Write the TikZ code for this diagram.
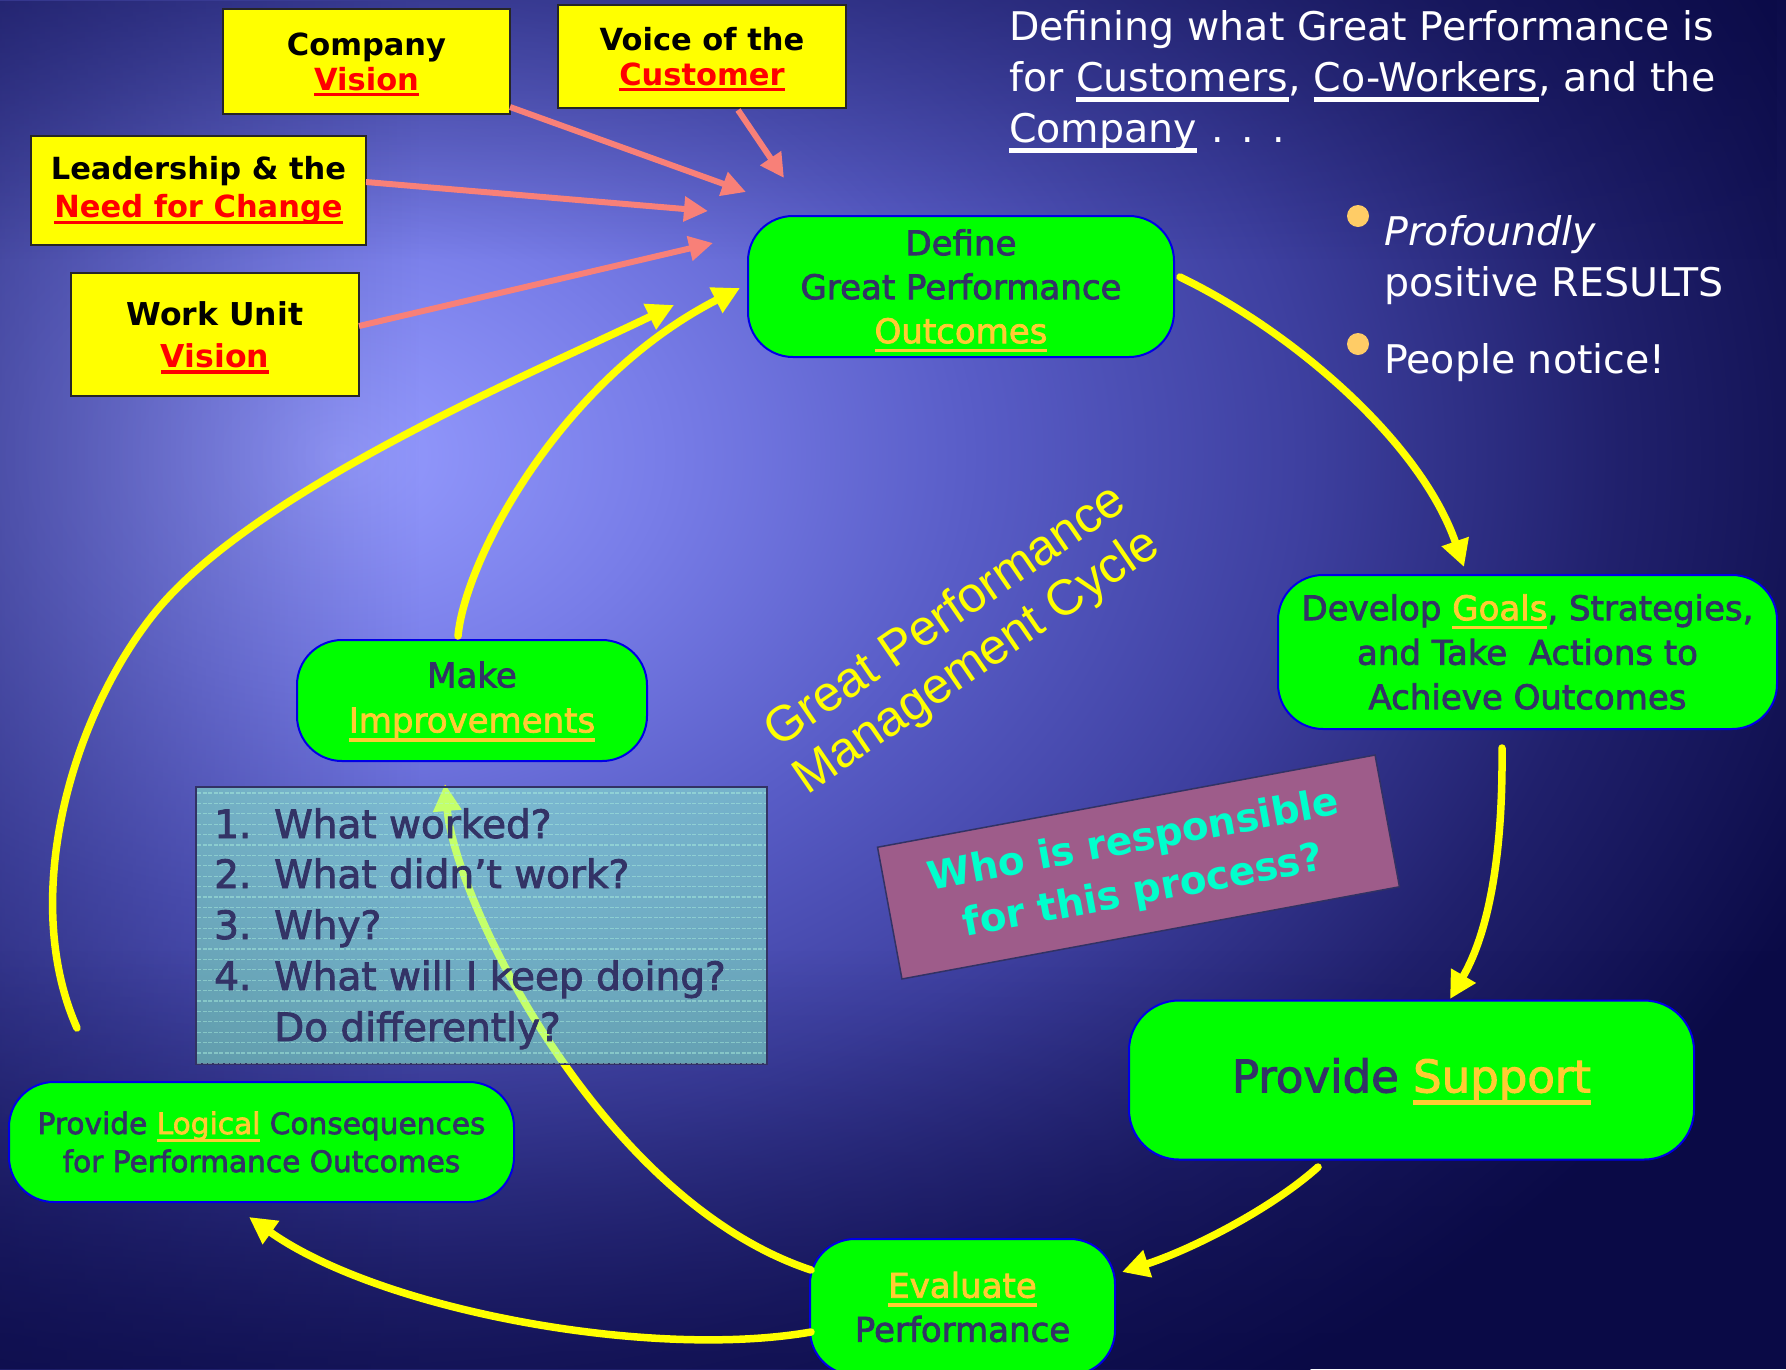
\documentclass[tikz,border=0pt]{standalone}
\usepackage{fontspec}
\usetikzlibrary{arrows.meta,fadings}
\newfontfamily\dvs{DejaVu Sans}
\newfontfamily\dvsm[BoldFont={DejaVu Sans}, BoldFeatures={FakeBold=2.2}]{DejaVu Sans}
\newfontfamily\lib{Liberation Sans}
\definecolor{bgdark}{RGB}{10,10,70}
\definecolor{bgA}{RGB}{150,156,255}
\definecolor{bgB}{RGB}{120,125,232}
\definecolor{bgC}{RGB}{88,92,198}
\definecolor{bgD}{RGB}{62,64,160}
\definecolor{bgE}{RGB}{32,32,108}
\definecolor{boxgreen}{RGB}{0,255,0}
\definecolor{boxblue}{RGB}{0,0,230}
\definecolor{navytext}{RGB}{51,51,102}
\definecolor{gold}{RGB}{255,204,51}
\definecolor{salmon}{RGB}{248,128,120}
\definecolor{ayellow}{RGB}{255,255,0}
\definecolor{mauve}{RGB}{158,92,138}
\definecolor{whoborder}{RGB}{50,50,100}
\definecolor{cyantext}{RGB}{0,255,204}
\definecolor{aqua}{RGB}{142,255,205}
\definecolor{qline}{RGB}{175,245,225}
\definecolor{bulletc}{RGB}{255,204,102}
\pgfdeclareradialshading{bgglow}{\pgfpoint{0bp}{0bp}}{color(0bp)=(bgA); color(5bp)=(bgB); color(10bp)=(bgC); color(15bp)=(bgD); color(20bp)=(bgE); color(25bp)=(bgdark); color(50bp)=(bgdark)}
\tikzfading[name=fadeleft, left color=transparent!0, right color=transparent!100]
\tikzfading[name=fadetop, top color=transparent!0, bottom color=transparent!100]
\tikzfading[name=fadebottom, bottom color=transparent!0, top color=transparent!100]
\newcommand{\ulx}[2][0.27]{\setbox0=\hbox{#2}\rlap{\smash{\rule[-#1em]{\wd0}{0.11em}}}\box0}
\newcommand{\fGreen}{\dvsm\bfseries\fontsize{34}{44}\selectfont}
\newcommand{\fYellow}{\dvs\bfseries\fontsize{30.5}{35}\selectfont}
\begin{document}
\begin{tikzpicture}[x=1pt,y=-1pt,
  gbox/.style={draw=boxblue, line width=2pt, fill=boxgreen, rounded corners=45pt, text=navytext, align=center, inner sep=0pt},
  ybox/.style={draw=black!85, line width=1.5pt, fill=ayellow, text=black, align=center, inner sep=0pt},
  yarrow/.style={draw=ayellow, line width=7.5pt, line cap=round, -{Triangle[length=27pt,width=27pt]}},
  sarrow/.style={draw=salmon, line width=6pt, -{Triangle[length=24pt,width=24pt]}},
  ttext/.style={anchor=base west, inner sep=0pt, text=white, font=\dvs\fontsize{39.5}{50}\selectfont},
  qtext/.style={anchor=base west, inner sep=0pt, text=navytext, font=\dvsm\bfseries\fontsize{39}{50}\selectfont},
  bdot/.style={circle, fill=bulletc, minimum size=22pt, inner sep=0pt},
]
\useasboundingbox (0,0) rectangle (1786,1369);
\clip (0,0) rectangle (1786,1369);
% background
\fill[bgdark] (0,0) rectangle (1786,1369);
\shade[shading=bgglow] (340,455) ellipse [x radius=1600, y radius=1150];
\fill[bgdark, path fading=fadeleft, fill opacity=0.38] (0,0) rectangle (420,1369);
\fill[bgdark, path fading=fadetop, fill opacity=0.4] (0,0) rectangle (1786,260);
\fill[bgdark, path fading=fadebottom, fill opacity=0.55] (0,950) rectangle (1786,1369);

% yellow input boxes
\node[ybox, minimum width=287pt, minimum height=105pt, font=\fYellow] (company) at (366.5,61.5) {Company\\{\color{red}\ulx[0.2]{Vision}}};
\node[ybox, minimum width=288pt, minimum height=103pt, font=\fYellow] (voice) at (702,56.5) {Voice of the\\{\color{red}\ulx[0.2]{Customer}}};
\node[ybox, minimum width=335pt, minimum height=109pt, font=\dvs\bfseries\fontsize{30.5}{38}\selectfont] (lead) at (198.5,190.5) {Leadership \& the\\{\color{red}\ulx[0.2]{Need for Change}}};
\node[ybox, minimum width=288pt, minimum height=123pt, font=\dvs\bfseries\fontsize{31.5}{42}\selectfont] (work) at (215,334.5) {Work Unit\\{\color{red}\ulx[0.2]{Vision}}};

% green process boxes
\node[gbox, minimum width=426pt, minimum height=141pt, font=\fGreen] (define) at (961,286.5) {Define\\Great Performance\\{\color{gold}\ulx{Outcomes}}};
\node[gbox, minimum width=499pt, minimum height=154pt, font=\dvsm\bfseries\fontsize{34}{44.5}\selectfont] (develop) at (1527.5,652) {Develop {\color{gold}\ulx{Goals}}, Strategies,\\and Take~ Actions to\\Achieve Outcomes};
\node[gbox, rounded corners=50pt, minimum width=565pt, minimum height=159pt, font=\dvsm\bfseries\fontsize{45}{50}\selectfont] (support) at (1411.5,1080) {Provide {\color{gold}\ulx{Support}}};
\node[gbox, minimum width=305pt, minimum height=136pt, font=\fGreen] (evaluate) at (962.5,1307) {{\color{gold}\ulx{Evaluate}}\\Performance};
\node[gbox, minimum width=505pt, minimum height=120pt, font=\dvsm\bfseries\fontsize{29.6}{38}\selectfont] (logical) at (261.5,1142) {Provide {\color{gold}\ulx{Logical}} Consequences\\for Performance Outcomes};
\node[gbox, minimum width=350pt, minimum height=121pt, font=\dvsm\bfseries\fontsize{34}{45}\selectfont] (make) at (472,700.5) {Make\\{\color{gold}\ulx{Improvements}}};

% connector end points
\coordinate (s1s) at (510,107);  \coordinate (s1e) at (746,192);
\coordinate (s2s) at (738,110);  \coordinate (s2e) at (784,178);
\coordinate (s3s) at (366,182);  \coordinate (s3e) at (708,211);
\coordinate (s4s) at (359,326);  \coordinate (s4e) at (713,243);
\coordinate (c1s) at (1180,277); \coordinate (c1e) at (1464,567);
\coordinate (c2s) at (1502,748); \coordinate (c2e) at (1450,999);
\coordinate (c3s) at (1318,1167);\coordinate (c3e) at (1122,1272);
\coordinate (c4s) at (811,1332); \coordinate (c4e) at (249,1217);
\coordinate (c5s) at (811,1270); \coordinate (c5e) at (445,784);
\coordinate (c6s) at (77,1028);  \coordinate (c6e) at (674,305);
\coordinate (c7s) at (458,636);  \coordinate (c7e) at (740,288);

% salmon input arrows
\draw[sarrow] (s1s) -- (s1e);
\draw[sarrow] (s2s) -- (s2e);
\draw[sarrow] (s3s) -- (s3e);
\draw[sarrow] (s4s) -- (s4e);

% yellow cycle arrows
\draw[yarrow] (c1s) .. controls (1290,330) and (1420,440) .. (c1e);
\draw[yarrow] (c2s) .. controls (1503,850) and (1490,930) .. (c2e);
\draw[yarrow] (c3s) .. controls (1270,1210) and (1190,1250) .. (c3e);
\draw[yarrow] (c4s) .. controls (650,1360) and (380,1310) .. (c4e);
\draw[yarrow] (c5s) .. controls (600,1200) and (455,900) .. (c5e);
\draw[yarrow] (c6s) .. controls (20,900) and (70,720) .. (153,615) .. controls (253,489) and (540,370) .. (c6e);
\draw[yarrow] (c7s) .. controls (465,560) and (560,380) .. (c7e);

% questions box (semi-transparent, over the arrow)
\node[draw=whoborder, line width=2pt, fill=aqua, fill opacity=0.52, draw opacity=1, minimum width=571pt, minimum height=277pt, inner sep=0pt] (questions) at (481.5,925.5) {};
\begin{scope}
  \clip (197,788) rectangle (766,1063);
  \foreach \k in {0,...,26} \draw[qline, line width=1.2pt, opacity=0.45, dash pattern=on 4pt off 1.5pt] (197,{793+10.4*\k}) -- (766,{793+10.4*\k});
\end{scope}
\node[qtext] (q1n) at (214,838) {1.};  \node[qtext] (q1) at (274,838) {What worked?};
\node[qtext] (q2n) at (214,888) {2.};  \node[qtext] (q2) at (274,888) {What didn’t work?};
\node[qtext] (q3n) at (214,939) {3.};  \node[qtext] (q3) at (274,939) {Why?};
\node[qtext] (q4n) at (214,990) {4.};  \node[qtext] (q4) at (274,990) {What will I keep doing?};
\node[qtext] (q5) at (274,1041) {Do differently?};

% cycle label
\node[rotate=34.5, text=ayellow, font=\lib\fontsize{50}{55}\selectfont, align=center, inner sep=0pt] (cycle) at (962,640) {Great Performance\\Management Cycle};

% responsibility box
\node[draw=whoborder, line width=1.5pt, fill=mauve, rotate=10.5, minimum width=506pt, minimum height=134pt, text=cyantext, font=\dvs\bfseries\fontsize{39}{52}\selectfont, align=center, inner sep=0pt] (who) at (1138.5,867) {Who is responsible\\for this process?};

% title text
\node[ttext] (t1) at (1009,40) {Defining what Great Performance is};
\node[ttext] (t2) at (1009,91) {for \ulx{Customers}, \ulx{Co-Workers}, and the};
\node[ttext] (t3) at (1009,142) {\ulx{Company}\hspace{14pt}.\hspace{18pt}.\hspace{18pt}.};

% bullets
\node[bdot] (b1) at (1358,216) {};
\node[bdot] (b2) at (1358,344) {};
\node[ttext, font=\dvs\itshape\fontsize{39.5}{50}\selectfont] (r1) at (1384,245) {Profoundly};
\node[ttext] (r2) at (1384,296) {positive RESULTS};
\node[ttext] (r3) at (1384,373) {People notice!};
\end{tikzpicture}
\end{document}
